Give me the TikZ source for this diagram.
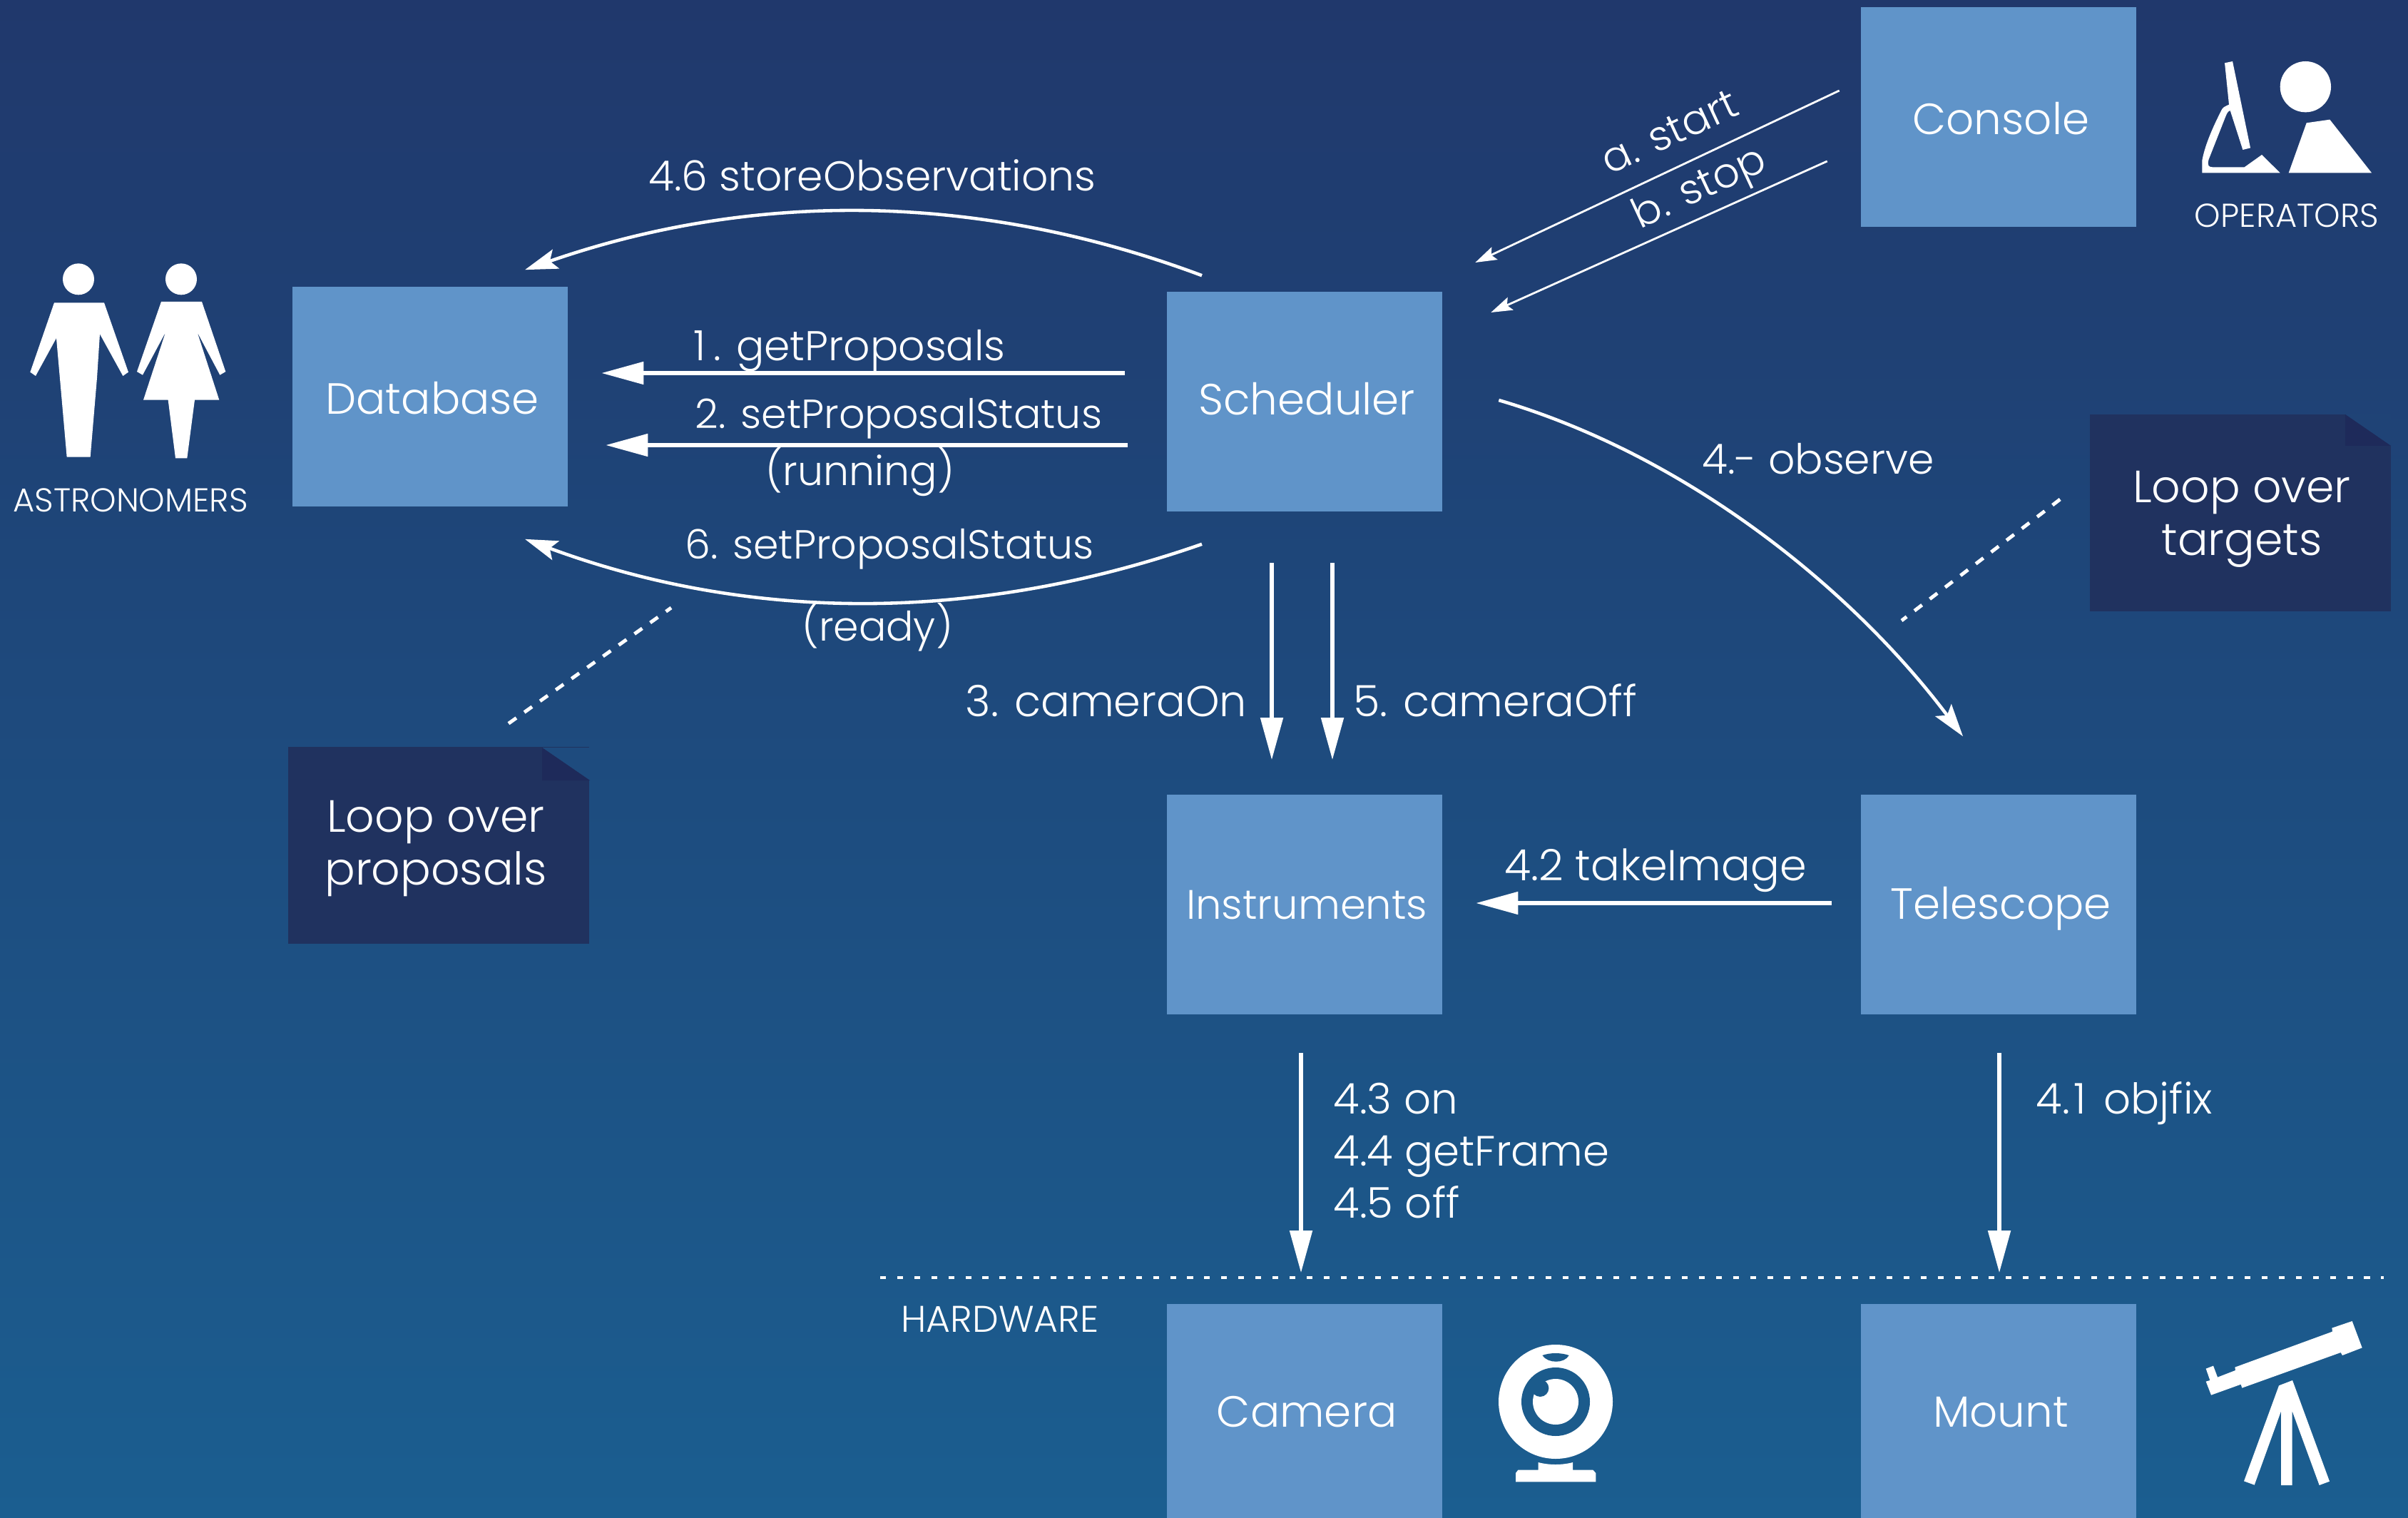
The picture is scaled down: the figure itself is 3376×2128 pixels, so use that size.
\documentclass[tikz,border=0pt]{standalone}
\usepackage{fontspec}
\setmainfont{Poppins}[UprightFont=* Light]
\usetikzlibrary{arrows.meta}
\definecolor{bgtop}{RGB}{32,56,108}
\definecolor{bgbottom}{RGB}{27,94,144}
\definecolor{boxblue}{RGB}{96,148,201}
\definecolor{notedark}{RGB}{32,50,95}
\definecolor{foldedge}{RGB}{30,42,90}
\definecolor{camdark}{RGB}{27,91,140}
\tikzset{
	boxnode/.style={fill=boxblue,inner sep=0pt,minimum width=3.85cm,minimum height=3.08cm,text=white,text height=15.8pt,text depth=4pt,execute at begin node={\hspace{1.8pt}},font=\fontsize{17.4}{18}\selectfont},
	notenode/.style={fill=notedark,minimum width=4.22cm,minimum height=2.76cm},
	notetext/.style={text=white,inner sep=0pt,yshift=-2.5pt,align=center,font=\fontsize{18}{21}\selectfont},
	msg/.style={text=white,inner sep=0pt,anchor=base,font=\fontsize{16.6}{20}\selectfont},
	msgwide/.style={msg,font=\fontsize{17.2}{20}\selectfont},
	msgnarrow/.style={msg,font=\fontsize{16.2}{20}\selectfont},
	msgleft/.style={msg,anchor=base west,font=\fontsize{16.9}{20}\selectfont},
	small/.style={text=white,inner sep=0pt,anchor=base,font=\fontsize{13.2}{14}\selectfont},
	flow/.style={white,line width=1.5pt,-{Triangle[length=16.8pt,width=8.8pt]}},
	curveflow/.style={white,line width=1.3pt,-{Stealth[length=13pt,width=8pt,inset=2.5pt]}},
	thinflow/.style={white,line width=.8pt,-{Stealth[length=8.5pt,width=5.5pt,inset=1.5pt]}},
	dashline/.style={white,line width=1.4pt,dash pattern=on 3.8pt off 3.9pt},
	dotline/.style={white,line width=1.4pt,dash pattern=on 2.3pt off 4.5pt},
	icon/.style={fill=white,draw=none}
}
\begin{document}
\begin{tikzpicture}[x=.01cm,y=-.01cm]
	\useasboundingbox (0,0) rectangle (3376,2128);
	\shade[top color=bgtop,bottom color=bgbottom] (0,0) rectangle (3376,2128);

	% Boxes
	\node[boxnode,text height=18.2pt] (database) at (603,556) {Database};
	\node[boxnode,text height=14.6pt] (scheduler) at (1829,563) {Scheduler};
	\node[boxnode,text height=18.2pt] (console) at (2802,164) {Console};
	\node[boxnode,font=\fontsize{16.4}{18}\selectfont] (instruments) at (1829,1268) {Instruments};
	\node[boxnode] (telescope) at (2802,1268) {Telescope};
	\node[boxnode,text height=14.6pt] (camera) at (1829,1982) {Camera};
	\node[boxnode,text height=14.6pt] (mount) at (2802,1982) {Mount};

	% Notes
	\node[notenode] (proposals) at (615,1185) {};
	\node[notenode] (targets) at (3141,719) {};
	\node[notetext] (proposalstext) at ([shift={(-4,-4)}]proposals) {Loop over\\proposals};
	\node[notetext] (targetstext) at ([shift={(2,0)}]targets) {Loop over\\targets};
	\fill[bgbottom!50!bgtop] (760,1048) -- (827,1094) -- (827,1048) -- cycle;
	\fill[foldedge] (760,1048) -- (827,1094) -- (760,1094) -- cycle;
	\fill[bgbottom!28!bgtop] (3288,581) -- (3352,625) -- (3352,581) -- cycle;
	\fill[foldedge] (3288,581) -- (3352,625) -- (3288,625) -- cycle;

	% Messages
	\node[msg] (store) at (1223,268) {4.6 storeObservations};
	\node[msg] (get) at (1191,506) {1\kern3pt. getProposals};
	\node[msgnarrow] (set) at (1260,601) {2. setProposalStatus};
	\node[msgnarrow] (running) at (1206,680) {(running)};
	\node[msgnarrow] (setb) at (1247,783) {6. setProposalStatus};
	\node[msgnarrow] (ready) at (1230,898) {(ready)};
	\node[msgwide] (camon) at (1551,1004) {3. cameraOn};
	\node[msgwide] (camoff) at (2096,1004) {5. cameraOff};
	\node[msg] (observe) at (2549,665) {4.- observe};
	\node[msgwide] (take) at (2321,1234) {4.2 takeImage};
	\node[msgleft] (on) at (1869,1561) {4.3 on};
	\node[msgleft] (frame) at (1869,1634) {4.4 getFrame};
	\node[msgleft] (off) at (1869,1707) {4.5 off};
	\node[msgleft] (objfix) at (2854,1561) {4.\kern1.5pt1\kern2.5pt{} objfix};
	\node[msg,rotate=25] (start) at (2349,203) {a. start};
	\node[msg,rotate=25] (stop) at (2390,279) {b. stop};

	% Small captions
	\node[small] (astro) at (183,718) {ASTRONOMERS};
	\node[small] (oper) at (3206,319) {OPERATORS};
	\node[small,font=\fontsize{14.8}{14}\selectfont] (hard) at (1402,1867) {HARDWARE};

	% Free ends
	\coordinate (dashp) at (941,852);
	\coordinate (dasht) at (2666,870);
	\coordinate (hwleft) at (1234,1791);
	\coordinate (hwright) at (3342,1791);

	% Arrows
	\draw[flow] ([shift={(-59,-40)}]scheduler.west) -- ([shift={(47,-33)}]database.east);
	\draw[flow] ([shift={(-55,61)}]scheduler.west) -- ([shift={(53,68)}]database.east);
	\draw[curveflow] ([shift={(-144,-22)}]scheduler.north) .. controls (1369,268) and (1053,268) .. ([shift={(133,-23)}]database.north);
	\draw[curveflow] ([shift={(-144,45)}]scheduler.south) .. controls (1369,873) and (1053,873) .. ([shift={(133,45)}]database.south);
	\draw[flow] ([shift={(-46,71)}]scheduler.south) -- ([shift={(-46,-48)}]instruments.north);
	\draw[flow] ([shift={(39,71)}]scheduler.south) -- ([shift={(39,-48)}]instruments.north);
	\draw[flow] ([shift={(-41,-2)}]telescope.west) -- ([shift={(47,-2)}]instruments.east);
	\draw[flow] ([shift={(-5,53)}]instruments.south) -- ([shift={(-5,-43)}]camera.north);
	\draw[flow] ([shift={(1,53)}]telescope.south) -- ([shift={(1,-43)}]mount.north);
	\draw[thinflow] ([shift={(-30,-37)}]console.west) -- ([shift={(46,-195)}]scheduler.east);
	\draw[thinflow] ([shift={(-47,62)}]console.west) -- ([shift={(68,-125)}]scheduler.east);
	\draw[curveflow] ([shift={(79,-2)}]scheduler.east) .. controls (2370,640) and (2600,830) .. ([shift={(-50,-81)}]telescope.north);

	% Dashed
	\draw[dashline] ([shift={(98,-32)}]proposals.north) -- (dashp);
	\draw[dashline] ([shift={(-41,-19)}]targets.west) -- (dasht);
	\draw[dotline] (hwleft) -- (hwright);

	% Astronomers
	\begin{scope}[shift={(0,330)},scale=1/3]
		\fill[icon] (330,184) circle (66);
		\fill[icon] (228,283) -- (438,283) -- (540,575) -- (517,591) -- (420,415) -- (408,600) -- (380,932) -- (281,932) -- (237,432) -- (150,591) -- (127,575) -- cycle;
		\fill[icon] (762,184) circle (66);
		\fill[icon] (678,279) -- (849,279) -- (949,573) -- (925,587) -- (830,408) -- (922,692) -- (819,692) -- (787,937) -- (738,937) -- (707,692) -- (603,692) -- (696,408) -- (600,587) -- (576,573) -- cycle;
	\end{scope}

	% Operators
	\begin{scope}[shift={(2950,0)},scale=1/3]
		\fill[icon] (847,365) circle (107);
		\fill[icon] (851,517) -- (949,503) -- (1125,727) -- (776,727) -- cycle;
		\fill[icon] (507,265) -- (540,258) -- (615,622) -- (583,630) -- (530,465) .. controls (518,468) and (515,480) .. (505,505) -- (440,670) .. controls (432,695) and (440,703) .. (455,703) -- (590,703) -- (663,651) -- (740,727) -- (412,727) -- (412,675) .. controls (425,600) and (470,510) .. (490,470) .. controls (497,450) and (510,447) .. (525,440) -- cycle;
	\end{scope}

	% Webcam
	\begin{scope}[shift={(2040,1820)},scale=1/3]
		\fill[icon] (423,435) circle (240);
		\fill[camdark] (423,435) circle (144);
		\fill[icon] (423,435) circle (96);
		\fill[camdark] (358,378) circle (36);
		\fill[camdark] (367,240) .. controls (400,228) and (445,228) .. (479,240) .. controls (460,275) and (390,275) .. (367,240) -- cycle;
		\fill[icon] (350,690) .. controls (395,702) and (450,702) .. (495,690) -- (495,722) -- (580,722) -- (592,735) -- (592,772) -- (255,772) -- (255,735) -- (265,722) -- (350,722) -- cycle;
	\end{scope}

	% Telescope
	\begin{scope}[shift={(3040,1820)},scale=1/3]
		\fill[icon] (158,296) -- (189,284) -- (207,332) -- (282,303) -- (280,290) -- (690,140) -- (688,125) -- (773,96) -- (815,208) -- (732,240) -- (725,228) -- (310,377) -- (305,362) -- (180,407) -- (158,350) -- (175,345) -- cycle;
		\fill[icon] (465,367) -- (522,345) -- (678,770) -- (635,786) -- (521,475) -- (521,786) -- (474,786) -- (474,475) -- (362,785) -- (318,769) -- cycle;
	\end{scope}
\end{tikzpicture}
\end{document}
